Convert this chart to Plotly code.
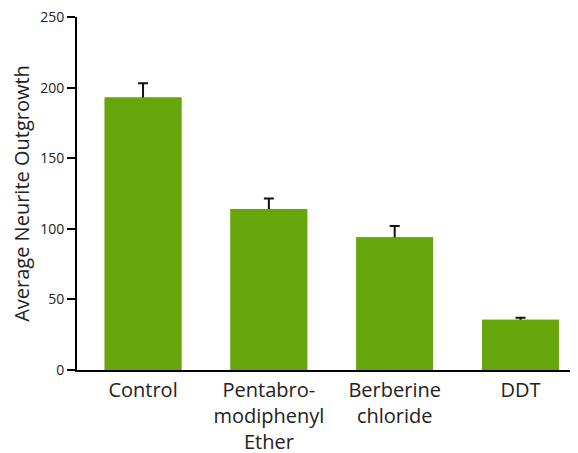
import plotly.graph_objects as go

categories = ["Control", "Pentabro-<br>modiphenyl<br>Ether", "Berberine<br>chloride", "DDT"]
values = [193, 114, 94, 35.5]
errors = [10, 7.5, 8, 1.5]
y_ticks = [0, 50, 100, 150, 200, 250]

x = list(range(len(categories)))
bar_color = "#66A50C"

fig = go.Figure()
# bars carrying the error bars
fig.add_trace(go.Bar(
    x=x, y=values, width=0.61,
    marker=dict(color=bar_color, line=dict(width=0)),
    error_y=dict(type="data", array=errors, color="#111", thickness=2, width=5),
    hoverinfo="skip",
))
# identical bars on top hide the lower half of each error bar
fig.add_trace(go.Bar(
    x=x, y=values, width=0.61,
    marker=dict(color=bar_color, line=dict(width=0)),
))

# the page adds an 8px offset on both axes
fig.update_layout(
    width=570, height=445,
    margin=dict(l=69, r=0, t=9, b=83, autoexpand=False),
    plot_bgcolor="white", paper_bgcolor="white",
    font=dict(family="Open Sans, sans-serif", color="#222", size=14),
    showlegend=False,
    barmode="overlay",
)
fig.update_xaxes(
    range=[-0.525, 3.457], automargin=False,
    tickvals=x, ticktext=categories,
    showline=True, linecolor="black", linewidth=2,
    ticks="", tickfont=dict(size=20), ticklabelstandoff=1,
    showgrid=False, zeroline=False,
)
fig.update_yaxes(
    range=[0, 250], tickvals=y_ticks, automargin=False,
    ticklabeloverflow="allow",
    showline=True, linecolor="black", linewidth=2,
    ticks="outside", ticklen=8, tickcolor="black", tickwidth=1.5,
    tickfont=dict(size=14), showgrid=False, zeroline=False,
    title=dict(text="Average Neurite Outgrowth", font=dict(size=20), standoff=14),
)

fig.write_html("out.html")
